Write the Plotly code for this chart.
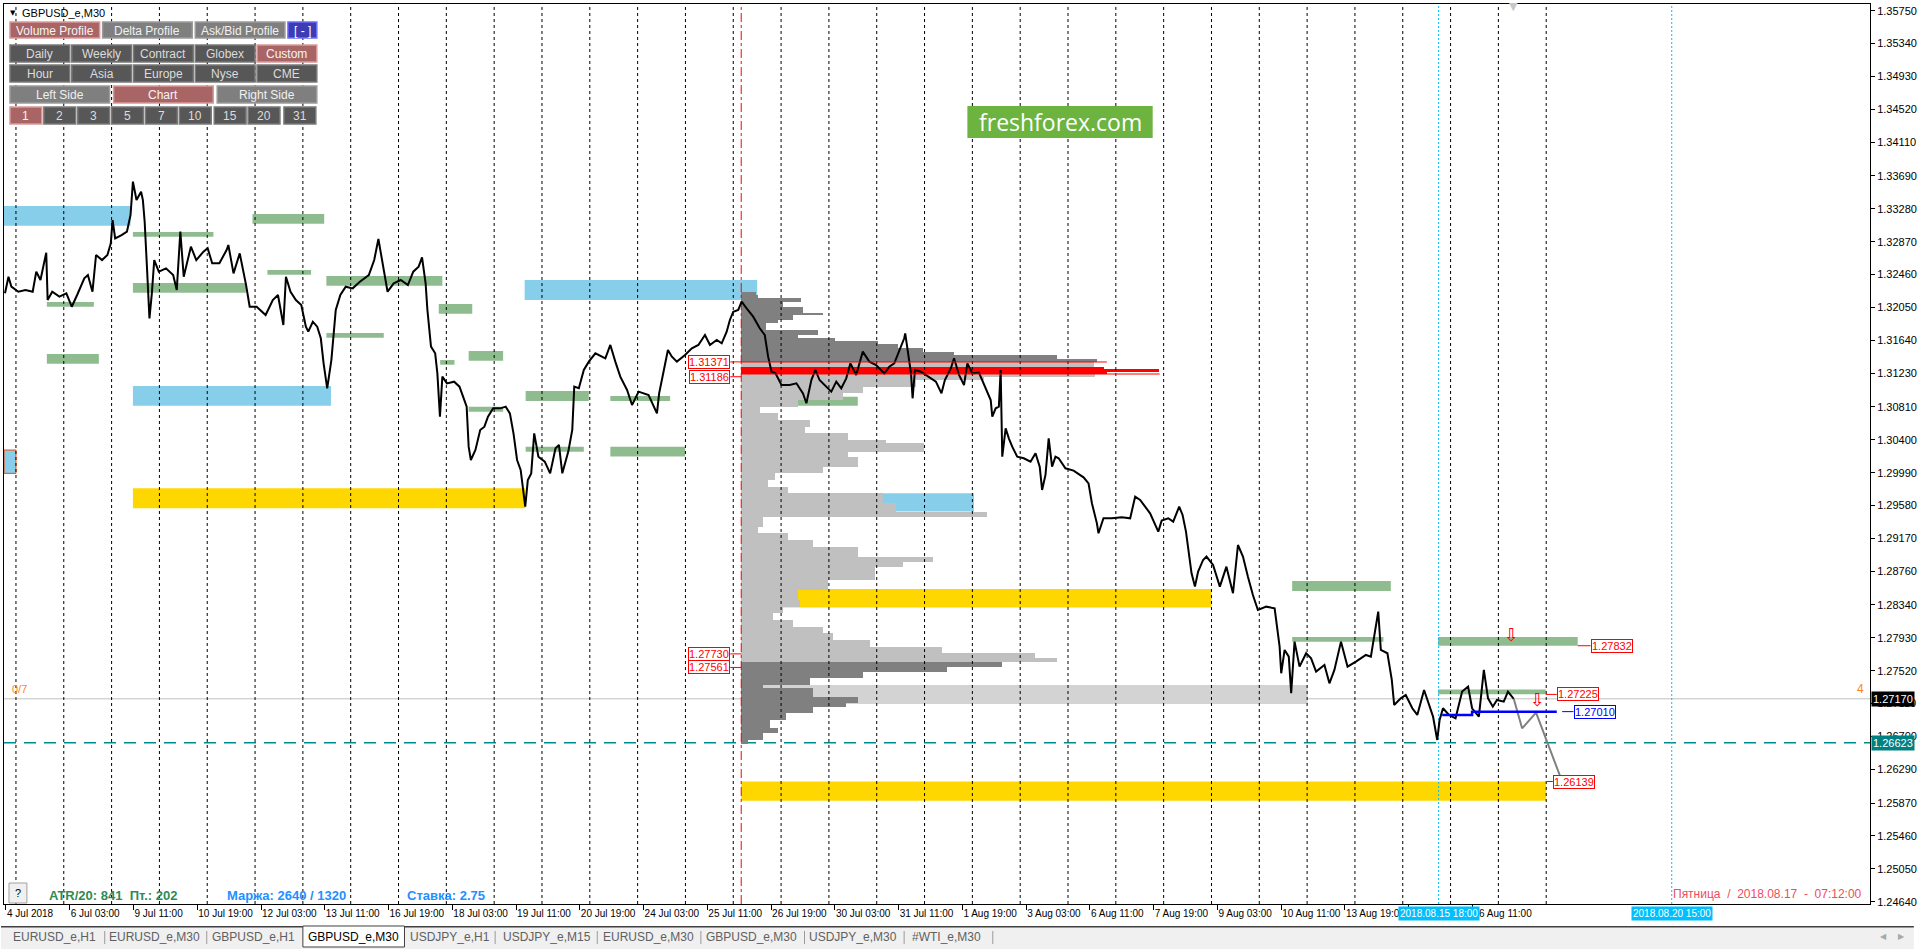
import plotly.graph_objects as go

# GBPUSD_e M30 chart, x = trading hours counted from 4 Jul 19:00 (weekends skipped)

# price path (hours, price)
price_h = [-0.5, 1.25, 2.7, 6.2, 9.8, 13.4, 15.2, 17.3, 20.2, 20.9,
           23.2, 26.8, 30.3, 33.0, 35.7, 39.3, 41.1, 43.4, 45.2, 48.2,
           50.9, 52.6, 53.5, 54.8, 58.0, 60.7, 62.5, 63.7, 65.5, 67.8,
           68.7, 69.6, 70.9, 72.0, 73.2, 74.4, 76.7, 80.3, 83.9, 85.7,
           87.5, 89.2, 92.8, 95.5, 99.1, 101.2, 103.5, 107.1, 110.7, 111.6,
           114.2, 117.3, 120.5, 122.3, 125.8, 130.3, 133.9, 136.5, 139.2, 140.5,
           142.8, 145.5, 148.2, 150.5, 151.7, 154.0, 156.2, 158.0, 159.4, 161.2,
           163.3, 165.5, 167.8, 170.5, 174.0, 177.6, 182.1, 184.8, 186.9, 189.2,
           191.5, 194.6, 198.1, 201.7, 204.4, 207.1, 208.8, 210.6, 211.5, 213.3,
           215.4, 216.5, 217.8, 219.0, 221.3, 224.9, 227.6, 229.4, 231.2, 232.2,
           233.3, 235.6, 238.0, 240.1, 241.9, 244.5, 248.1, 250.8, 252.9, 254.7,
           256.5, 258.3, 259.7, 260.6, 261.9, 263.6, 265.1, 267.2, 270.4, 273.1,
           275.8, 277.5, 279.2, 282.2, 284.2, 285.2, 287.5, 290.0, 292.5, 295.8,
           300.8, 303.3, 305.8, 308.3, 311.7, 314.2, 317.5, 322.5, 326.7, 327.8,
           330.0, 332.2, 334.2, 336.7, 340.8, 344.2, 347.5, 350.8, 353.3, 356.7,
           359.2, 361.7, 363.3, 365.0, 367.5, 369.2, 371.7, 375.0, 378.3, 380.8,
           382.5, 384.2, 386.2, 389.2, 393.3, 396.7, 400.0, 401.7, 404.2, 406.2,
           408.3, 411.7, 414.2, 416.7, 419.2, 421.7, 423.8, 426.7, 430.0, 433.3,
           436.7, 440.8, 443.3, 445.8, 448.3, 450.8, 451.3, 452.8, 454.2, 455.0,
           456.2, 459.2, 463.3, 466.7, 469.5, 471.2, 474.2, 475.8, 478.3, 480.8,
           482.5, 485.0, 488.3, 491.7, 494.2, 495.0, 496.7, 498.3, 499.2, 500.0,
           501.7, 503.3, 505.0, 507.5, 510.8, 514.2, 516.7, 518.8, 520.0, 521.7,
           523.3, 525.0, 526.7, 528.3, 531.7, 535.8, 540.8, 543.3, 545.0, 547.5,
           548.3, 550.8, 555.0, 560.0, 564.2, 566.7, 569.2, 571.7, 574.2, 578.3,
           580.0, 583.3, 585.8, 588.8, 590.5, 592.2, 593.3, 595.0, 596.7, 598.3,
           600.8, 602.5, 605.8, 609.2, 612.5, 615.8, 618.3, 620.8, 623.3, 625.8,
           628.3, 632.5, 636.7, 637.8, 639.2, 640.0, 641.7, 643.8, 645.0, 646.7,
           649.2, 652.5, 655.0, 657.5, 661.7, 664.2, 666.7, 670.0, 673.3, 677.5,
           682.5, 685.0, 687.5, 688.7, 690.0, 693.3, 695.5, 696.7, 700.0, 702.5,
           705.8, 708.3, 711.7, 714.2, 716.2, 718.3, 719.5, 721.2, 724.2, 727.5,
           730.8, 733.8, 735.8, 739.2, 741.7, 743.8, 746.2, 748.3, 751.7, 753.8,
           756.7]
price_p = [1.32226, 1.32433, 1.32309, 1.32246, 1.32267, 1.32246, 1.32496, 1.32392, 1.32733, 1.32143,
           1.32246, 1.32184, 1.32226, 1.32059, 1.32205, 1.32413, 1.32454, 1.32246, 1.32704, 1.32641,
           1.32704, 1.32849, 1.33140, 1.32911, 1.32953, 1.32995, 1.33202, 1.33618, 1.33389, 1.33493,
           1.33389, 1.33119, 1.32475, 1.31914, 1.32226, 1.32641, 1.32496, 1.32537, 1.32454, 1.32267,
           1.32995, 1.32433, 1.32807, 1.32641, 1.32745, 1.32787, 1.32600, 1.32600, 1.32766, 1.32828,
           1.32475, 1.32724, 1.32329, 1.32059, 1.32059, 1.31955, 1.32143, 1.32205, 1.31831, 1.32433,
           1.32246, 1.32143, 1.32080, 1.31810, 1.31748, 1.31872, 1.31810, 1.31665, 1.31353, 1.31041,
           1.31394, 1.32018, 1.32205, 1.32309, 1.32288, 1.32371, 1.32454, 1.32641, 1.32903, 1.32558,
           1.32246, 1.32350, 1.32392, 1.32329, 1.32496, 1.32558, 1.32674, 1.32350, 1.32018, 1.31561,
           1.31478, 1.31228, 1.30688, 1.31187, 1.31103, 1.31124, 1.31062, 1.30937, 1.30813, 1.30314,
           1.30148, 1.30272, 1.30522, 1.30563, 1.30688, 1.30792, 1.30792, 1.30813, 1.30729, 1.30480,
           1.30148, 1.30023, 1.29774, 1.29566, 1.29898, 1.29981, 1.30480, 1.30189, 1.30127, 1.29981,
           1.30293, 1.30335, 1.29982, 1.30252, 1.30522, 1.31062, 1.31042, 1.31270, 1.31374, 1.31478,
           1.31416, 1.31582, 1.31374, 1.31187, 1.31021, 1.30834, 1.31000, 1.30958, 1.30730, 1.30979,
           1.31249, 1.31519, 1.31436, 1.31374, 1.31457, 1.31540, 1.31582, 1.31706, 1.31582, 1.31644,
           1.31603, 1.31748, 1.31894, 1.31997, 1.32018, 1.32122, 1.32039, 1.31935, 1.31790, 1.31706,
           1.31436, 1.31249, 1.31229, 1.31083, 1.31083, 1.31104, 1.30979, 1.30855, 1.31145, 1.31270,
           1.31145, 1.31062, 1.31000, 1.31125, 1.31042, 1.31166, 1.31353, 1.31208, 1.31499, 1.31374,
           1.31332, 1.31228, 1.31312, 1.31353, 1.31519, 1.31665, 1.31727, 1.31436, 1.31228, 1.30917,
           1.31270, 1.31249, 1.31187, 1.31125, 1.30979, 1.31145, 1.31291, 1.31416, 1.31208, 1.31083,
           1.31353, 1.31228, 1.31237, 1.31042, 1.30896, 1.30688, 1.30792, 1.30813, 1.31270, 1.30190,
           1.30543, 1.30418, 1.30314, 1.30190, 1.30169, 1.30127, 1.30231, 1.30065, 1.29774, 1.29961,
           1.30418, 1.30065, 1.30190, 1.30169, 1.30044, 1.30015, 1.29932, 1.29857, 1.29608, 1.29358,
           1.29234, 1.29421, 1.29421, 1.29433, 1.29421, 1.29691, 1.29649, 1.29566, 1.29483, 1.29254,
           1.29392, 1.29421, 1.29379, 1.29566, 1.29462, 1.29254, 1.29047, 1.28735, 1.28569, 1.28756,
           1.28901, 1.28943, 1.28839, 1.28569, 1.28818, 1.28486, 1.29088, 1.28943, 1.28693, 1.28465,
           1.28278, 1.28319, 1.28298, 1.28070, 1.27821, 1.27488, 1.27779, 1.27696, 1.27239, 1.27883,
           1.27571, 1.27738, 1.27675, 1.27509, 1.27592, 1.27363, 1.27530, 1.27883, 1.27571, 1.27634,
           1.27717, 1.27696, 1.28070, 1.28257, 1.27779, 1.27738, 1.27405, 1.27093, 1.27176, 1.27218,
           1.27052, 1.26969, 1.27280, 1.27093, 1.26948, 1.26657, 1.26906, 1.27052, 1.26969, 1.26927,
           1.27260, 1.27322, 1.27052, 1.26948, 1.27530, 1.27176, 1.27072, 1.27156, 1.27135, 1.27260,
           1.27170]

# forecast zigzag and blue level
zig_h = [756.7, 760.9, 767.9, 781.0]
zig_p = [1.27170, 1.26802, 1.26997, 1.26139]
blue_h = [720.8, 735.8, 735.8, 778.3]
blue_p = [1.26969, 1.26969, 1.27010, 1.27010]

# x axis labels
tick_h = [0, 32, 64, 96, 128, 160, 192, 224, 256, 288, 320, 352,
          384, 416, 448, 480, 512, 544, 576, 608, 640, 672, 704, 736]
tick_text = ["4 Jul 2018", "6 Jul 03:00", "9 Jul 11:00", "10 Jul 19:00", "12 Jul 03:00",
             "13 Jul 11:00", "16 Jul 19:00", "18 Jul 03:00", "19 Jul 11:00", "20 Jul 19:00",
             "24 Jul 03:00", "25 Jul 11:00", "26 Jul 19:00", "30 Jul 03:00", "31 Jul 11:00",
             "1 Aug 19:00", "3 Aug 03:00", "6 Aug 11:00", "7 Aug 19:00", "9 Aug 03:00",
             "10 Aug 11:00", "13 Aug 19:00", "15 Aug 03:00", "16 Aug 11:00"]

# day separators
sep_h = [5, 29, 53, 77, 101, 125, 149, 173, 197, 221, 245, 269, 293, 317, 341, 365, 389,
         413, 437, 461, 485, 509, 533, 557, 581, 605, 629, 653, 677, 701, 725, 749, 773]

y_ticks = [1.35750, 1.35340, 1.34930, 1.34520, 1.34110, 1.33690, 1.33280, 1.32870, 1.32460,
           1.32050, 1.31640, 1.31230, 1.30810, 1.30400, 1.29990, 1.29580, 1.29170, 1.28760,
           1.28340, 1.27930, 1.27520, 1.27110, 1.26700, 1.26290, 1.25870, 1.25460, 1.25050,
           1.24640]

# support / resistance zones
zone_h0 = [-1, 63.7, 123.7, 131.2, 20.5, 63.7, 160.8, 217.2, 160.8, 20.5, 217.9, 232.2, 63.7,
           260.3, 260.8, 232.2, 260.8, 303.3, 303.3, 388.3, 63.7, 369, 369, 369, 645.5, 645.5,
           718.7, 718.7, 369]
zone_h1 = [62.5, 104.1, 159.7, 153.1, 44.1, 120.5, 219.0, 234.0, 189.6, 46.6, 225.1, 249.5, 163.1,
           377.0, 292.5, 249.5, 290.0, 333.3, 340.8, 427.5, 260.6, 485.8, 605, 653.3, 695, 691.3,
           788.8, 772.8, 773]
zone_lo = [1.33069, 1.32932, 1.33094, 1.32458, 1.32059, 1.32234, 1.32321, 1.31972, 1.31673,
           1.31349, 1.31336, 1.31386, 1.30825, 1.32143, 1.30884, 1.30750, 1.30252, 1.30884,
           1.30190, 1.30825, 1.29545, 1.29504, 1.28307, 1.27106, 1.28515, 1.27883, 1.27832,
           1.27228, 1.25898]
zone_hi = [1.33314, 1.32990, 1.33215, 1.32517, 1.32118, 1.32354, 1.32442, 1.32093, 1.31731,
           1.31469, 1.31394, 1.31507, 1.31070, 1.32392, 1.31008, 1.30813, 1.30314, 1.30946,
           1.30314, 1.30937, 1.29794, 1.29732, 1.28539, 1.27343, 1.28639, 1.27941, 1.27941,
           1.27287, 1.26139]
zone_kind = "b" "ggggggggggg" "bb" "gggggg" "ybys" "gggg" "y"
zone_colors = {"b": "#87CEEB", "g": "#8FBC8F", "y": "#FFD700", "s": "#D3D3D3"}

# volume profile from 26 Jul 04:00
prof_start = 369
prof_edges = [1.32243, 1.32205, 1.32168, 1.32118, 1.32055, 1.31981, 1.31956, 1.31893, 1.31856,
              1.31769, 1.31706, 1.31669, 1.31632, 1.31594, 1.31544, 1.31494, 1.31457, 1.31407,
              1.31370, 1.31307, 1.31282, 1.31245, 1.31220, 1.31183, 1.31145, 1.31058, 1.30983,
              1.30896, 1.30809, 1.30734, 1.30646, 1.30559, 1.30484, 1.30397, 1.30360, 1.30247,
              1.30185, 1.30060, 1.29986, 1.29898, 1.29811, 1.29736, 1.29612, 1.29499, 1.29437,
              1.29312, 1.29237, 1.29150, 1.29063, 1.28938, 1.28876, 1.28814, 1.28651, 1.28527,
              1.28402, 1.28315, 1.28240, 1.28153, 1.28065, 1.27991, 1.27903, 1.27816, 1.27741,
              1.27679, 1.27629, 1.27567, 1.27504, 1.27429, 1.27342, 1.27305, 1.27193, 1.27118,
              1.27068, 1.26993, 1.26906, 1.26806, 1.26744, 1.26656, 1.26607]
prof_len = [7.5, 8.5, 30, 21, 31, 41, 26, 18.5, 12.5, 38.5,
            28.5, 47, 68.5, 78.5, 91, 107, 158.5, 178.5, 177, 182,
            209.5, 183.5, 177.5, 122, 87.5, 61, 51, 28.5, 9.5, 18.5,
            34.5, 32, 53.5, 72.5, 91.5, 53.5, 58.5, 41, 17, 13.5,
            23.5, 71, 77.5, 123.5, 11, 8.5, 23.5, 36, 58.5, 96,
            81, 67, 43.5, 28.5, 29.5, 21, 16, 26, 41, 46,
            64.5, 101, 147.5, 158.5, 131, 103.5, 61, 34.5, 11, 36,
            58.5, 52.5, 36, 22.5, 14.5, 18.5, 11, 3.5]
prof_kind = ("DDDDDDDDDD" "DDDDDDDD" "L" "RRR"
             "LLLLLLLLLL" "LLLLLLLLLL" "LLLLLLLLLL" "LLLLLLLLLL" "LL"
             "DDDDDDDDDD" "DDDD")
prof_colors = {"D": "#808080", "L": "#C0C0C0", "R": "#FF0000"}

# labelled levels
prof_labels = [1.31371, 1.31186, 1.27730, 1.27561]
right_labels = [("1.27832", 1.27832, 788.8, 795.3, "#FF0000"),
                ("1.27225", 1.27225, 772.8, 778.3, "#FF0000"),
                ("1.27010", 1.27010, 781.0, 786.7, "#0000FF"),
                ("1.26139", 1.26139, 773.0, 776.3, "#FF0000")]
current_price = 1.27170
teal_level = 1.26623
red_vline = 369
cyan_vlines = [719, 836]
cyan_text = ["2018.08.15 18:00", "2018.08.20 15:00"]

# ---------------------------------------------------------------
FONT = "Liberation Sans"
y_lo, y_hi = 1.246115, 1.358335
L, R, T, B = 3, 1876, 4, 904


def px(x):
    return (x - L) / (R - L)


def py(y):
    return (B - y) / (B - T)


fig = go.Figure()


def note(x, y, text, size=11, color="black", family=FONT, xanchor="center", **kw):
    # text placed by screen pixel (paper coordinates)
    fig.add_annotation(x=px(x), y=py(y), xref="paper", yref="paper", text=text, showarrow=False,
                       xanchor=xanchor, yanchor="middle",
                       font=dict(family=family, size=size, color=color), **kw)


def box(x0, y0, x1, y1, fill, edge=None, width=0):
    fig.add_shape(type="rect", xref="paper", yref="paper", x0=px(x0), x1=px(x1), y0=py(y1), y1=py(y0),
                  fillcolor=fill, line=dict(color=edge or fill, width=width), layer="above")


# zones
for i in range(len(zone_h0)):
    fig.add_shape(type="rect", xref="x", yref="y", x0=zone_h0[i], x1=zone_h1[i],
                  y0=zone_lo[i], y1=zone_hi[i], fillcolor=zone_colors[zone_kind[i]],
                  line=dict(width=0), layer="below")
# small box with orange edge on the left
fig.add_shape(type="rect", xref="x", yref="y", x0=-1, x1=5, y0=1.29981, y1=1.30272,
              fillcolor="#87CEEB", line=dict(color="#FF4500", width=1), layer="below")

# level lines
fig.add_shape(type="line", xref="paper", yref="y", x0=0, x1=1, y0=current_price, y1=current_price,
              line=dict(color="#C0C0C0", width=1), layer="below")
fig.add_shape(type="line", xref="paper", yref="y", x0=0, x1=1, y0=teal_level, y1=teal_level,
              line=dict(color="#008B8B", width=1.5, dash="12px,8px"), layer="below")

# volume profile
centers = [(prof_edges[i] + prof_edges[i + 1]) / 2 for i in range(len(prof_len))]
heights = [prof_edges[i] - prof_edges[i + 1] for i in range(len(prof_len))]
fig.add_trace(go.Bar(y=centers, x=prof_len, base=prof_start, width=heights, orientation="h",
                     marker=dict(color=[prof_colors[k] for k in prof_kind], line=dict(width=0)),
                     hoverinfo="skip"))
fig.add_shape(type="line", xref="x", yref="y", x0=prof_start, x1=prof_start + 183.5,
              y0=1.31370, y1=1.31370, line=dict(color="#FF0000", width=1))
fig.add_shape(type="line", xref="x", yref="y", x0=prof_start, x1=prof_start + 210,
              y0=1.31220, y1=1.31220, line=dict(color="#FF0000", width=1))

# day separators
sx, sy = [], []
for h in sep_h:
    sx += [h, h, None]
    sy += [y_lo, y_hi, None]
fig.add_trace(go.Scatter(x=sx, y=sy, mode="lines", line=dict(color="black", width=1, dash="3px,3px"),
                         hoverinfo="skip"))
fig.add_trace(go.Scatter(x=[red_vline, red_vline], y=[y_lo, y_hi], mode="lines",
                         line=dict(color="#FF0000", width=1, dash="dashdot"), hoverinfo="skip"))
for h in cyan_vlines:
    fig.add_trace(go.Scatter(x=[h, h], y=[y_lo, y_hi], mode="lines",
                             line=dict(color="#00BFFF", width=1, dash="2px,2px"), hoverinfo="skip"))

# price, forecast, blue level
fig.add_trace(go.Scatter(x=price_h, y=price_p, mode="lines", line=dict(color="black", width=2)))
fig.add_trace(go.Scatter(x=zig_h, y=zig_p, mode="lines", line=dict(color="#808080", width=2)))
fig.add_trace(go.Scatter(x=blue_h, y=blue_p, mode="lines", line=dict(color="#0000FF", width=2.5)))

# labels next to the profile
for v in prof_labels:
    fig.add_shape(type="line", xref="x", yref="y", x0=363.5, x1=prof_start, y0=v, y1=v,
                  line=dict(color="#FF0000", width=1))
    fig.add_annotation(x=363.5, y=v, xref="x", yref="y", text="%.5f" % v, showarrow=False,
                       xanchor="right", yanchor="middle", bgcolor="white", bordercolor="#FF0000",
                       borderwidth=1, borderpad=0, font=dict(family=FONT, size=11, color="#FF0000"))

for text, v, h0, h1, col in right_labels:
    fig.add_shape(type="line", xref="x", yref="y", x0=h0, x1=h1, y0=v, y1=v,
                  line=dict(color=col, width=1))
    fig.add_annotation(x=h1, y=v, xref="x", yref="y", text=text, showarrow=False,
                       xanchor="left", yanchor="middle", bgcolor="white", bordercolor=col,
                       borderwidth=1, borderpad=0, font=dict(family=FONT, size=11, color=col))

# down arrows
for h, v in [(755.8, 1.27972), (768.7, 1.27160)]:
    fig.add_annotation(x=h, y=v, xref="x", yref="y", text="⇩", showarrow=False,
                       xanchor="center", yanchor="middle",
                       font=dict(family="DejaVu Sans", size=18, color="#FF0000"))

# price boxes on the axis
for v, bg in [(current_price, "black"), (teal_level, "#008080")]:
    fig.add_annotation(x=1, y=v, xref="paper", yref="y", text="%.5f" % v, showarrow=False,
                       xanchor="left", yanchor="middle", xshift=1, bgcolor=bg, borderpad=1,
                       font=dict(family=FONT, size=11, color="white"))

# cyan date labels under the axis
for h, t in zip(cyan_vlines, cyan_text):
    fig.add_annotation(x=h, y=py(913), xref="x", yref="paper", text=t, showarrow=False,
                       xanchor="center", yanchor="middle",
                       bgcolor="#00BFFF", borderpad=1, font=dict(family=FONT, size=10, color="white"))

# orange counters
note(9, 689, "0/7", color="#FF7F27", xanchor="left")
note(1866, 689, "4", size=12, color="#FF7F27")

# title and top marker
note(12, 13, "▼", size=7, family="DejaVu Sans")
note(19, 13, "GBPUSD_e,M30", xanchor="left")
note(1518, 7, "▼", size=11, color="#C8C8C8", family="DejaVu Sans")

# panel buttons
styles = {"pink": ("#A96565", "#D99A9A", "#F4F4F4"),
          "dark": ("#575757", "#7A7A7A", "#DCDCDC"),
          "light": ("#7F7F7F", "#9C9C9C", "#F0F0F0"),
          "blue": ("#3C3CB4", "#6E6EFF", "#FFFFFF")}
buttons = [
    (9, 22, 99, 38, "Volume Profile", "pink"), (102, 22, 192, 38, "Delta Profile", "light"),
    (195, 22, 285, 38, "Ask/Bid Profile", "light"), (288, 22, 317, 38, "[ - ]", "blue"),
    (9, 45, 69, 62, "Daily", "dark"), (71, 45, 131, 62, "Weekly", "dark"),
    (133, 45, 193, 62, "Contract", "dark"), (195, 45, 255, 62, "Globex", "dark"),
    (257, 45, 317, 62, "Custom", "pink"),
    (9, 65, 69, 82, "Hour", "dark"), (71, 65, 131, 82, "Asia", "dark"),
    (133, 65, 193, 82, "Europe", "dark"), (195, 65, 255, 82, "Nyse", "dark"),
    (257, 65, 317, 82, "CME", "dark"),
    (9, 86, 109, 103, "Left Side", "light"), (113, 86, 213, 103, "Chart", "pink"),
    (217, 86, 317, 103, "Right Side", "light"),
    (9, 107, 41, 124, "1", "pink"), (43, 107, 75, 124, "2", "dark"), (77, 107, 109, 124, "3", "dark"),
    (111, 107, 143, 124, "5", "dark"), (145, 107, 177, 124, "7", "dark"),
    (179, 107, 211, 124, "10", "dark"), (214, 107, 246, 124, "15", "dark"),
    (248, 107, 280, 124, "20", "dark"), (284, 107, 316, 124, "31", "dark"),
]
for x0, y0, x1, y1, text, st in buttons:
    fill, edge, fc = styles[st]
    box(x0, y0, x1, y1, fill, edge, 1.5)
    note((x0 + x1) / 2, (y0 + y1) / 2 + 0.5, text, size=12, color=fc)

# freshforex badge
box(970, 106, 1156, 138, "#6CB33F")
note(1063, 122, "freshforex.com", size=23, color="white", family="Open Sans")

# bottom-left info
box(8, 883, 26, 903, "#F0F0F0", "#A0A0A0", 1)
note(17, 893, "?", size=11)
info = [(46, "ATR/20: 841  Пт.: 202", "#2E8B57"), (225, "Маржа: 2640 / 1320", "#1E90FF"),
        (406, "Ставка: 2.75", "#1E90FF")]
for x, text, col in info:
    note(x, 895, "<b>%s</b>" % text, size=13, color=col, xanchor="left")
note(1870, 894, "Пятница  /  2018.08.17  -  07:12:00", size=12, color="#EE4B5E", xanchor="right")

# symbol tabs
box(0, 927, 1920, 949, "#F0F0F0")
box(0, 926, 1920, 927.5, "#404040")
box(303, 926, 405, 947, "white", "#404040", 1)
for x in [103.6, 206, 495.5, 598, 702, 806, 906, 995]:
    box(x, 931, x + 1, 944, "#9A9A9A")
tabs = [(53.5, "EURUSD_e,H1"), (154, "EURUSD_e,M30"), (253, "GBPUSD_e,H1"), (354, "GBPUSD_e,M30"),
        (450.5, "USDJPY_e,H1"), (548, "USDJPY_e,M15"), (650, "EURUSD_e,M30"), (753.5, "GBPUSD_e,M30"),
        (855.5, "USDJPY_e,M30"), (949.5, "#WTI_e,M30")]
for x, text in tabs:
    note(x, 937, text, size=12, color="black" if x == 354 else "#606060")
note(1890, 936, "◀", size=8, color="#A8A8A8", family="DejaVu Sans")
note(1908, 936, "▶", size=8, color="#A8A8A8", family="DejaVu Sans")

fig.update_layout(
    width=1920, height=949,
    margin=dict(l=L, r=1920 - R, t=T, b=949 - B),
    paper_bgcolor="white", plot_bgcolor="white",
    showlegend=False, bargap=0,
    font=dict(family=FONT, size=10, color="black"),
    xaxis=dict(range=[-1, 935.5], tickvals=tick_h, ticktext=tick_text, tickangle=0,
               ticks="outside", ticklen=5, tickcolor="black", ticklabelposition="outside right",
               showgrid=False, zeroline=False, showline=True, linecolor="black", linewidth=1,
               mirror=True, tickfont=dict(family=FONT, size=10, color="black")),
    yaxis=dict(range=[y_lo, y_hi], side="right", tickvals=y_ticks, tickformat=".5f",
               ticks="outside", ticklen=4, tickcolor="black",
               showgrid=False, zeroline=False, showline=True, linecolor="black", linewidth=1,
               mirror=True, tickfont=dict(family=FONT, size=11, color="black")),
)

fig.write_html("out.html", config={"displayModeBar": False},
               post_script="document.body.style.margin='0';document.body.style.overflow='hidden';")
